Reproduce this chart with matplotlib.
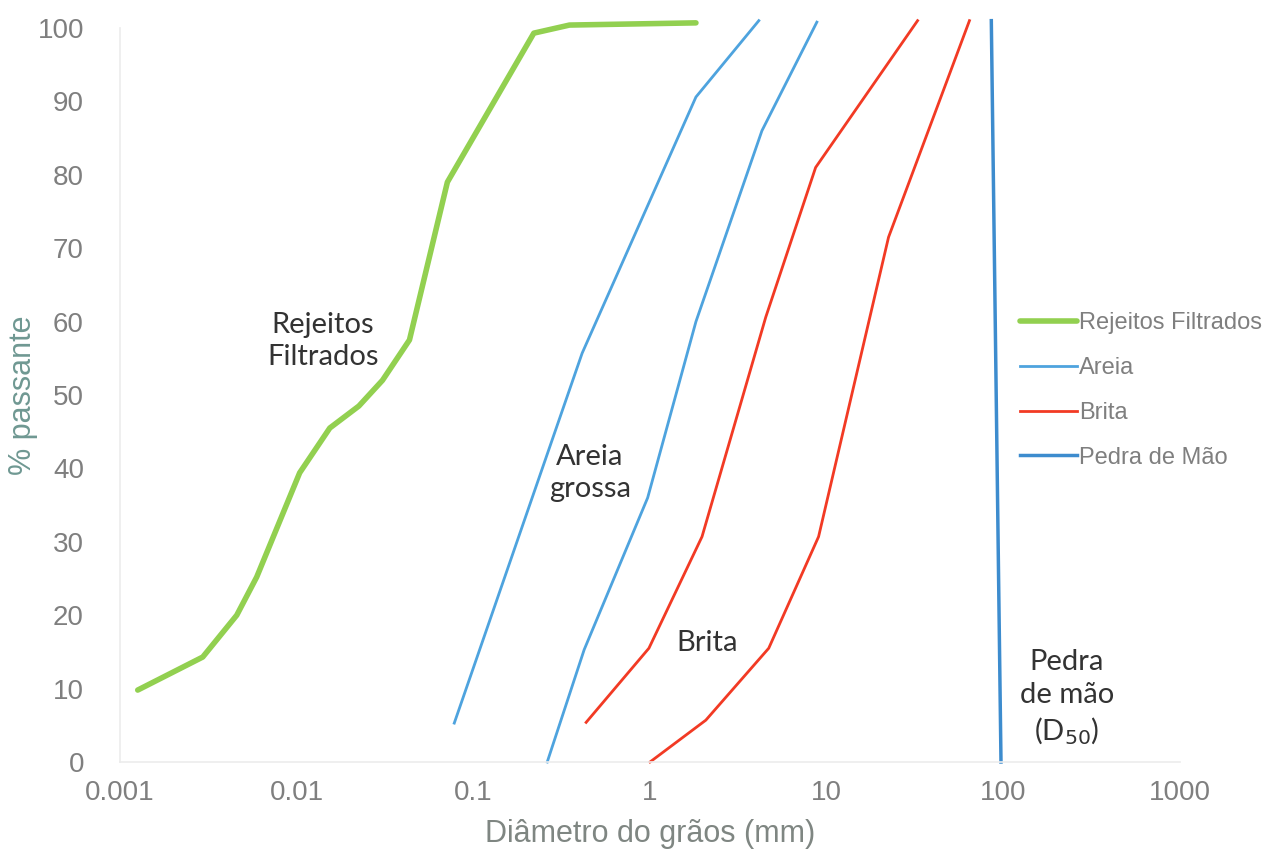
import matplotlib.pyplot as plt

# curvas granulométricas (diâmetro em mm, % passante)
rej_d = [0.00126, 0.00294, 0.00458, 0.00594, 0.0104, 0.0154, 0.0225, 0.0306, 0.0435, 0.0713, 0.22, 0.35, 1.82]
rej_p = [9.8, 14.3, 20.0, 25.2, 39.4, 45.5, 48.5, 52.0, 57.5, 79.0, 99.3, 100.4, 100.7]

areia1_d = [0.078, 0.413, 1.82, 4.13]
areia1_p = [5.3, 55.7, 90.6, 101.0]

areia2_d = [0.262, 0.424, 0.97, 1.82, 4.3, 8.8]
areia2_p = [0.0, 15.3, 36.0, 60.0, 86.0, 100.8]

brita1_d = [0.435, 0.986, 1.97, 4.52, 8.66, 32.7]
brita1_p = [5.4, 15.5, 30.7, 60.6, 81.0, 101.0]

brita2_d = [1.0, 2.07, 4.7, 9.0, 22.4, 64.3]
brita2_p = [0.0, 5.7, 15.5, 30.7, 71.5, 101.0]

pedra_d = [97.0, 85.5]
pedra_p = [0.0, 101.0]

x_ticks = [0.001, 0.01, 0.1, 1, 10, 100, 1000]
x_labels = ["0.001", "0.01", "0.1", "1", "10", "100", "1000"]
y_ticks = [0, 10, 20, 30, 40, 50, 60, 70, 80, 90, 100]

verde = "#92d050"
azul = "#4ea3de"
vermelho = "#f23a24"
azul2 = "#3d8cce"

plt.rcParams["font.family"] = ["Liberation Sans", "DejaVu Sans"]

fig = plt.figure(figsize=(12.74, 8.51), dpi=100)
ax = fig.add_axes([120 / 1274, 1 - 762 / 851, 1060 / 1274, 734 / 851])

ax.plot(rej_d, rej_p, color=verde, lw=4.0, solid_capstyle="round", clip_on=False, label="Rejeitos Filtrados")
ax.plot(areia1_d, areia1_p, color=azul, lw=2.0, clip_on=False, label="Areia")
ax.plot(areia2_d, areia2_p, color=azul, lw=2.0, clip_on=False)
ax.plot(brita1_d, brita1_p, color=vermelho, lw=2.0, clip_on=False, label="Brita")
ax.plot(brita2_d, brita2_p, color=vermelho, lw=2.0, clip_on=False)
ax.plot(pedra_d, pedra_p, color=azul2, lw=2.5, clip_on=False, label="Pedra de Mão")

ax.set_xscale("log")
ax.set_xlim(0.001, 1000)
ax.set_ylim(0, 100)
ax.set_xticks(x_ticks)
ax.set_xticklabels(x_labels)
ax.set_yticks(y_ticks)
ax.minorticks_off()
ax.tick_params(length=0, labelsize=20, colors="#7f7f7f")
ax.tick_params(axis="x", pad=13)
ax.tick_params(axis="y", pad=26)

for s in ["top", "right"]:
    ax.spines[s].set_visible(False)
for s in ["left", "bottom"]:
    ax.spines[s].set_color("#ececec")
    ax.spines[s].set_linewidth(1.2)

ax.set_xlabel("Diâmetro do grãos (mm)", fontsize=22, color="#7f8682")
ax.xaxis.set_label_coords(0.5, -0.077)
ax.set_ylabel("% passante", fontsize=22, color="#6f9892")
ax.yaxis.set_label_coords(-0.077, 0.5)

anot = dict(family=["Lato", "DejaVu Sans"], fontsize=21, color="#333333",
            ha="center", va="center", linespacing=1.3)
ax.text(0.0141, 57.4, "Rejeitos\nFiltrados", **anot)
ax.text(0.457, 39.4, "Areia\ngrossa", **anot)
ax.text(2.1, 16.2, "Brita", **anot)
ax.text(229, 8.7, "Pedra\nde mão\n(D$_{50}$)", **anot)

fig.legend(loc="upper left", bbox_to_anchor=(1020 / 1274, 1 - 312 / 851), frameon=False,
           fontsize=17, labelcolor="#7f7f7f", handlelength=2.4, handletextpad=0.1,
           labelspacing=0.97, borderpad=0, borderaxespad=0)

fig.savefig("out.png", dpi=100)
